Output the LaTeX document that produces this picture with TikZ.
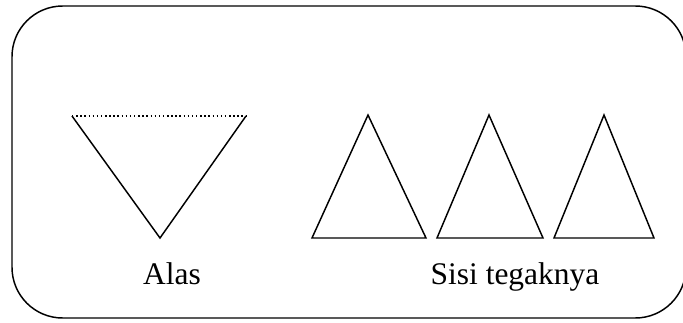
\documentclass[tikz,border=0pt]{standalone}
\usepackage{fontspec}
\setmainfont{Liberation Serif}
\usepackage{tikz}
\usetikzlibrary{positioning}
\tikzset{
	framebox/.style={
			draw=black,
			line width=1.1pt,
			rounded corners=38pt
		},
	trianglepath/.style={
			draw=black,
			line width=1.1pt,
			line join=miter
		},
	baseedge/.style={
			draw=black,
			line width=1.1pt,
			dotted
		},
	labelnode/.style={
			anchor=base,
			inner sep=0pt,
			font=\fontsize{23.6}{28}\selectfont
		}
}
\begin{document}
\begin{tikzpicture}[x=0.75pt, y=-0.75pt]
\useasboundingbox (0,0) rectangle (683,322);
\draw[framebox] (12,6) rectangle (686,318);

% alas
\coordinate (a1) at (72,116);
\coordinate (a2) at (246,116);
\coordinate (a3) at (160,238);
\draw[baseedge] (a1) -- (a2);
\draw[trianglepath] (a2) -- (a3) -- (a1);

% sisi tegak
\coordinate (s1l) at (312,238);
\coordinate (s1r) at (426,238);
\coordinate (s1t) at (368,115);
\coordinate (s2l) at (437,238);
\coordinate (s2r) at (543,238);
\coordinate (s2t) at (489,115);
\coordinate (s3l) at (554,238);
\coordinate (s3r) at (654,238);
\coordinate (s3t) at (604,115);
\draw[trianglepath] (s1l) -- (s1r) -- (s1t) -- cycle;
\draw[trianglepath] (s2l) -- (s2r) -- (s2t) -- cycle;
\draw[trianglepath] (s3l) -- (s3r) -- (s3t) -- cycle;

\node[labelnode] (alas) at (172,284) {Alas};
\node[labelnode] (sisi) at (515,284) {Sisi tegaknya};

\end{tikzpicture}
\end{document}
